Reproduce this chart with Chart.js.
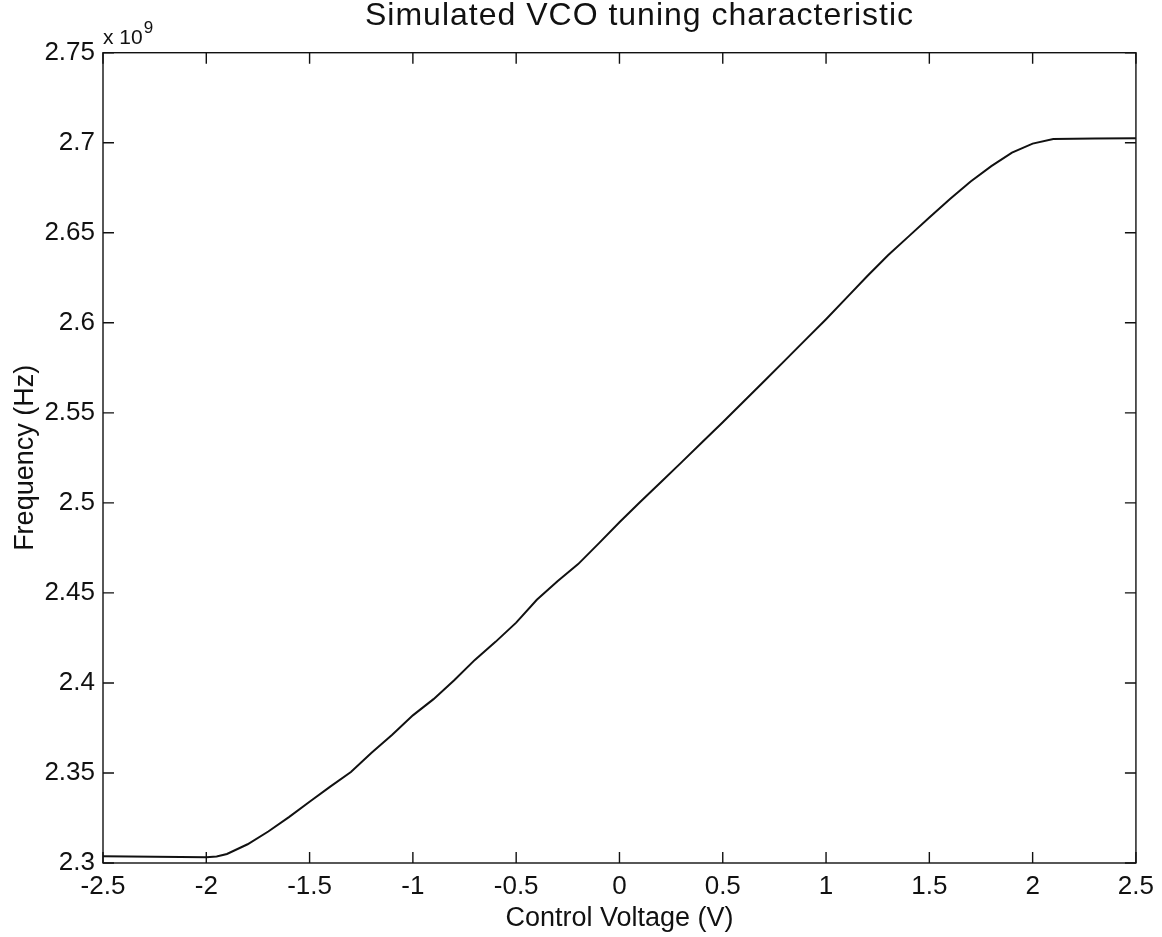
<!DOCTYPE html>
<html>
<head>
<meta charset="utf-8">
<script src="https://cdn.jsdelivr.net/npm/chart.js@4/dist/chart.umd.min.js"></script>
<style>
  html, body { margin: 0; padding: 0; background: #fff; }
  #c { display: block; }
</style>
</head>
<body>
<canvas id="c" width="1162" height="937"></canvas>
<script>
// Control voltage (V)
const voltage = [-2.5, -2.25, -2.0, -1.95, -1.90, -1.80, -1.70, -1.60, -1.50, -1.40, -1.30, -1.20, -1.10, -1.00, -0.90, -0.80, -0.70, -0.60, -0.50, -0.40, -0.30, -0.20, -0.10, 0.00, 0.10, 0.20, 0.30, 0.40, 0.50, 0.60, 0.70, 0.80, 0.90, 1.00, 1.10, 1.20, 1.30, 1.40, 1.50, 1.60, 1.70, 1.80, 1.90, 2.00, 2.10, 2.30, 2.50];
// Frequency (x 10^9 Hz)
const frequency = [2.3037, 2.3035, 2.3032, 2.3036, 2.3050, 2.3104, 2.3175, 2.3255, 2.3340, 2.3424, 2.3505, 2.3612, 2.3712, 2.3820, 2.3910, 2.4015, 2.4128, 2.4228, 2.4335, 2.4462, 2.4565, 2.4660, 2.4775, 2.4892, 2.5005, 2.5115, 2.5225, 2.5337, 2.5448, 2.5562, 2.5675, 2.5790, 2.5905, 2.6020, 2.6140, 2.6260, 2.6375, 2.6480, 2.6585, 2.6688, 2.6785, 2.6870, 2.6945, 2.6995, 2.7021, 2.7024, 2.7025];
const xTicks = [-2.5, -2, -1.5, -1, -0.5, 0, 0.5, 1, 1.5, 2, 2.5];
const yTicks = [2.3, 2.35, 2.4, 2.45, 2.5, 2.55, 2.6, 2.65, 2.7, 2.75];

const titleText = 'Simulated VCO tuning characteristic';
const xTitle = 'Control Voltage (V)';
const yTitle = 'Frequency (Hz)';
const FONT = '"Liberation Sans", Arial, Helvetica, sans-serif';
const INK = '#111';

const fmt = v => { const n = Number(Number(v).toFixed(2)); return (n === 0 ? 0 : n).toString(); };

const boxPlugin = {
  id: 'matlabBox',
  afterDatasetsDraw(chart) {
    const {ctx, chartArea: a, scales} = chart;
    const tl = 11;
    ctx.save();
    ctx.strokeStyle = INK;
    ctx.lineWidth = 1.4;
    ctx.strokeRect(a.left, a.top, a.right - a.left, a.bottom - a.top);
    ctx.beginPath();
    scales.x.ticks.forEach(t => {
      const px = scales.x.getPixelForValue(t.value);
      ctx.moveTo(px, a.bottom); ctx.lineTo(px, a.bottom - tl);
      ctx.moveTo(px, a.top); ctx.lineTo(px, a.top + tl);
    });
    scales.y.ticks.forEach(t => {
      const py = scales.y.getPixelForValue(t.value);
      ctx.moveTo(a.left, py); ctx.lineTo(a.left + tl, py);
      ctx.moveTo(a.right, py); ctx.lineTo(a.right - tl, py);
    });
    ctx.stroke();
    ctx.fillStyle = INK;
    // title
    ctx.textAlign = 'left';
    ctx.textBaseline = 'middle';
    ctx.font = '32px ' + FONT;
    if ('letterSpacing' in ctx) ctx.letterSpacing = '1px';
    ctx.fillText(titleText, 365, 16);
    if ('letterSpacing' in ctx) ctx.letterSpacing = '0px';
    // exponent label
    ctx.textBaseline = 'alphabetic';
    ctx.font = '21px ' + FONT;
    ctx.fillText('x 10', a.left, a.top - 9);
    const w = ctx.measureText('x 10').width;
    ctx.font = '17px ' + FONT;
    ctx.fillText('9', a.left + w + 1, a.top - 20);
    ctx.restore();
  }
};

new Chart(document.getElementById('c'), {
  type: 'line',
  data: {
    datasets: [{
      data: voltage.map((v, i) => ({x: v, y: frequency[i]})),
      borderColor: INK,
      borderWidth: 2,
      pointRadius: 0,
      tension: 0,
      fill: false
    }]
  },
  options: {
    responsive: false,
    animation: false,
    layout: { padding: { left: 0, right: 26, top: 52.7, bottom: 0 } },
    plugins: {
      legend: { display: false },
      tooltip: { enabled: false },
      title: { display: false }
    },
    scales: {
      x: {
        type: 'linear',
        min: -2.5, max: 2.5,
        afterBuildTicks: s => { s.ticks = xTicks.map(v => ({value: v})); },
        afterFit: s => { s.height = 74; },
        grid: { display: false, drawTicks: false },
        border: { display: false },
        ticks: { color: INK, padding: 8, maxRotation: 0, autoSkip: false, font: { family: FONT, size: 26 }, callback: v => fmt(v) },
        title: { display: true, text: xTitle, color: INK, font: { family: FONT, size: 27, lineHeight: 1.2 }, padding: { top: 0, bottom: 2 } }
      },
      y: {
        type: 'linear',
        min: 2.3, max: 2.75,
        afterBuildTicks: s => { s.ticks = yTicks.map(v => ({value: v})); },
        afterFit: s => { s.width = 103; },
        grid: { display: false, drawTicks: false },
        border: { display: false },
        ticks: { color: INK, padding: 8, autoSkip: false, font: { family: FONT, size: 26 }, callback: v => fmt(v) },
        title: { display: true, text: yTitle, color: INK, font: { family: FONT, size: 27, lineHeight: 1.2 }, padding: { top: 9.3, bottom: 0 } }
      }
    }
  },
  plugins: [boxPlugin]
});
</script>
</body>
</html>
